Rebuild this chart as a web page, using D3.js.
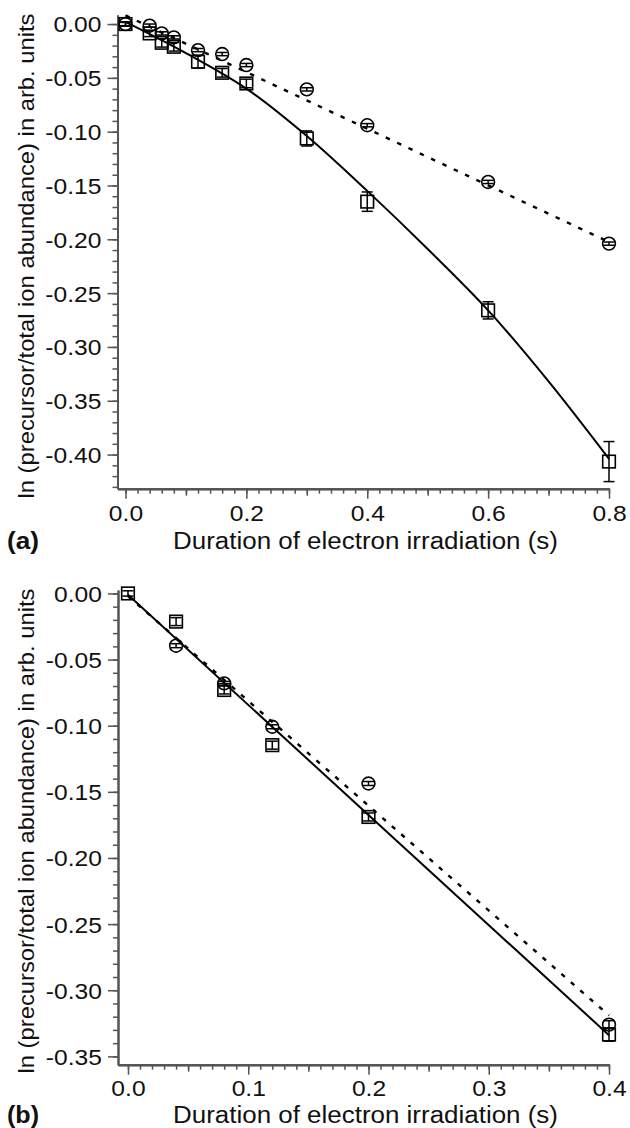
<!DOCTYPE html>
<html>
<head>
<meta charset="utf-8">
<script src="https://cdn.jsdelivr.net/npm/d3@7"></script>
<style>
  body { margin: 0; background: #fff; }
  svg { display: block; }
  text { font-family: "Liberation Sans", Arial, Helvetica, sans-serif; fill: #111; }
</style>
</head>
<body>
<svg id="chart" width="630" height="1128"></svg>
<script>
// ---- panel (a) data ----
const timesA = [0, 0.04, 0.06, 0.08, 0.12, 0.16, 0.2, 0.3, 0.4, 0.6, 0.8];
const squaresA = [0, -0.0087, -0.0174, -0.0211, -0.035, -0.0453, -0.0552, -0.1063, -0.165, -0.266, -0.4065];
const squareErrA = [0.002, 0.003, 0.004, 0.004, 0.006, 0.004, 0.004, 0.007, 0.009, 0.008, 0.0186];
const circlesA = [0, -0.0015, -0.0087, -0.0124, -0.0242, -0.0279, -0.0381, -0.0607, -0.094, -0.1467, -0.204];
const circleErrA = [0.0015, 0.0015, 0.0015, 0.0015, 0.0015, 0.0015, 0.0015, 0.0015, 0.0015, 0.0015, 0.0015];
const solidFitA = [[0, 0.002], [0.1, -0.027], [0.2, -0.06], [0.3, -0.104], [0.4, -0.155],
                   [0.5, -0.209], [0.6, -0.266], [0.7, -0.332], [0.8, -0.404]];
const dashedFitA = [[0, 0.008], [0.8, -0.2025]];
const xTicksA = [0, 0.2, 0.4, 0.6, 0.8];
const yTicksA = [0, -0.05, -0.10, -0.15, -0.20, -0.25, -0.30, -0.35, -0.40];

// ---- panel (b) data ----
const timesB = [0, 0.04, 0.08, 0.12, 0.2, 0.4];
const squaresB = [0, -0.0213, -0.073, -0.1147, -0.169, -0.3335];
const squareErrB = [0.002, 0.003, 0.003, 0.003, 0.003, 0.005];
const circleTimesB = [0.04, 0.08, 0.12, 0.2, 0.4];
const circlesB = [-0.0395, -0.068, -0.1008, -0.1437, -0.326];
const circleErrB = [0.0015, 0.0015, 0.0015, 0.0015, 0.003];
const solidFitB = [[0, -0.001], [0.4, -0.334]];
const dashedFitB = [[0, -0.002], [0.4, -0.319]];
const xTicksB = [0, 0.1, 0.2, 0.3, 0.4];
const yTicksB = [0, -0.05, -0.10, -0.15, -0.20, -0.25, -0.30, -0.35];

const yTitle = "ln (precursor/total ion abundance) in arb. units";
const xTitle = "Duration of electron irradiation (s)";

const STRETCH = 1.12;
const AXIS = "#555";

const svg = d3.select("#chart");

const panels = [
  {
    letter: "(a)",
    xRange: [117.5, 609], xDomain: [-0.0132, 0.8],
    yRange: [15, 488.7], yDomain: [0.0084, -0.4317],
    xTicks: xTicksA, xMid: d3.range(0.1, 0.8, 0.2), xMinor: d3.range(0, 0.801, 0.02),
    yTicks: yTicksA, yMinor: d3.range(0, -0.431, -0.01),
    squares: timesA.map((t, i) => ({t, v: squaresA[i], e: squareErrA[i]})),
    circles: timesA.map((t, i) => ({t, v: circlesA[i], e: circleErrA[i]})),
    solid: solidFitA, dashed: dashedFitA, curved: true,
    tickBase: 32.5, titleBase: 549, yTitleCenter: 256
  },
  {
    letter: "(b)",
    xRange: [118, 609], xDomain: [-0.0083, 0.4],
    yRange: [590, 1064.7], yDomain: [0.0026, -0.3563],
    xTicks: xTicksB, xMid: d3.range(0.05, 0.4, 0.1), xMinor: d3.range(0, 0.4001, 0.01),
    yTicks: yTicksB, yMinor: d3.range(0, -0.3505, -0.01),
    squares: timesB.map((t, i) => ({t, v: squaresB[i], e: squareErrB[i]})),
    circles: circleTimesB.map((t, i) => ({t, v: circlesB[i], e: circleErrB[i]})),
    solid: solidFitB, dashed: dashedFitB, curved: false,
    tickBase: 31.5, titleBase: 1123, yTitleCenter: 831
  }
];

panels.forEach(p => {
  const x = d3.scaleLinear().domain(p.xDomain).range(p.xRange);
  const y = d3.scaleLinear().domain(p.yDomain).range(p.yRange);
  const g = svg.append("g");
  const xAxisY = p.yRange[1];
  const yAxisX = p.xRange[0];

  // minor / medium ticks first
  g.append("g").attr("transform", `translate(0,${xAxisY})`)
    .call(d3.axisBottom(x).tickValues(p.xMinor).tickSize(5).tickSizeOuter(0).tickFormat(""));
  g.append("g").attr("transform", `translate(0,${xAxisY})`)
    .call(d3.axisBottom(x).tickValues(p.xMid).tickSize(7).tickSizeOuter(0).tickFormat(""));
  g.append("g").attr("transform", `translate(${yAxisX},0)`)
    .call(d3.axisLeft(y).tickValues(p.yMinor).tickSize(5).tickSizeOuter(0).tickFormat(""));

  // major axes with labels
  const xa = g.append("g").attr("transform", `translate(0,${xAxisY})`)
    .call(d3.axisBottom(x).tickValues(p.xTicks).tickSize(10).tickSizeOuter(0).tickFormat(d3.format(".1f")));
  xa.selectAll("text")
    .attr("y", 0).attr("dy", null)
    .attr("transform", `translate(0,${p.tickBase}) scale(${STRETCH},1)`);

  const ya = g.append("g").attr("transform", `translate(${yAxisX},0)`)
    .call(d3.axisLeft(y).tickValues(p.yTicks).tickSize(10).tickSizeOuter(0)
      .tickFormat(d => d3.format(".2f")(d).replace("−", "-")));
  ya.selectAll("text")
    .attr("x", 0).attr("dy", "0.36em")
    .attr("transform", `translate(-16,0) scale(${STRETCH},1)`);

  g.selectAll(".domain").attr("stroke", AXIS).attr("stroke-width", 2);
  g.selectAll(".tick line").attr("stroke", AXIS).attr("stroke-width", 1.5);
  g.selectAll(".tick text").attr("font-size", 22).attr("fill", "#111")
    .attr("font-family", '"Liberation Sans", Arial, sans-serif');

  // fit lines
  const line = d3.line().x(d => x(d[0])).y(d => y(d[1]))
    .curve(p.curved ? d3.curveCatmullRom : d3.curveLinear);
  g.append("path").datum(p.solid).attr("d", line)
    .attr("fill", "none").attr("stroke", "#000").attr("stroke-width", 2);
  g.append("path").datum(p.dashed).attr("d", d3.line().x(d => x(d[0])).y(d => y(d[1])))
    .attr("fill", "none").attr("stroke", "#000").attr("stroke-width", 2.4)
    .attr("stroke-dasharray", "4.5,8");

  // error bars
  const errs = p.squares.concat(p.circles);
  const eb = g.append("g").attr("stroke", "#000").attr("stroke-width", 1.5);
  errs.forEach(d => {
    eb.append("line").attr("x1", x(d.t)).attr("x2", x(d.t))
      .attr("y1", y(d.v + d.e)).attr("y2", y(d.v - d.e));
    [d.v + d.e, d.v - d.e].forEach(v => {
      eb.append("line").attr("x1", x(d.t) - 5.5).attr("x2", x(d.t) + 5.5)
        .attr("y1", y(v)).attr("y2", y(v));
    });
  });

  // markers
  g.append("g").selectAll("rect").data(p.squares).join("rect")
    .attr("x", d => x(d.t) - 6.3).attr("y", d => y(d.v) - 6.3)
    .attr("width", 12.6).attr("height", 12.6)
    .attr("fill", "none").attr("stroke", "#000").attr("stroke-width", 1.6);
  g.append("g").selectAll("circle").data(p.circles).join("circle")
    .attr("cx", d => x(d.t)).attr("cy", d => y(d.v)).attr("r", 6.4)
    .attr("fill", "none").attr("stroke", "#000").attr("stroke-width", 1.6);

  // titles
  svg.append("text")
    .attr("x", 365.5).attr("y", p.titleBase)
    .attr("text-anchor", "middle").attr("font-size", 23.5)
    .attr("textLength", 385).attr("lengthAdjust", "spacingAndGlyphs")
    .text(xTitle);
  svg.append("text")
    .attr("x", 7).attr("y", p.titleBase)
    .attr("font-size", 23).attr("font-weight", "bold")
    .attr("textLength", 32).attr("lengthAdjust", "spacingAndGlyphs")
    .text(p.letter);
  svg.append("text")
    .attr("transform", `translate(33.5,${p.yTitleCenter}) rotate(-90)`)
    .attr("text-anchor", "middle").attr("font-size", 22)
    .attr("textLength", 485).attr("lengthAdjust", "spacingAndGlyphs")
    .text(yTitle);
});
</script>
</body>
</html>
